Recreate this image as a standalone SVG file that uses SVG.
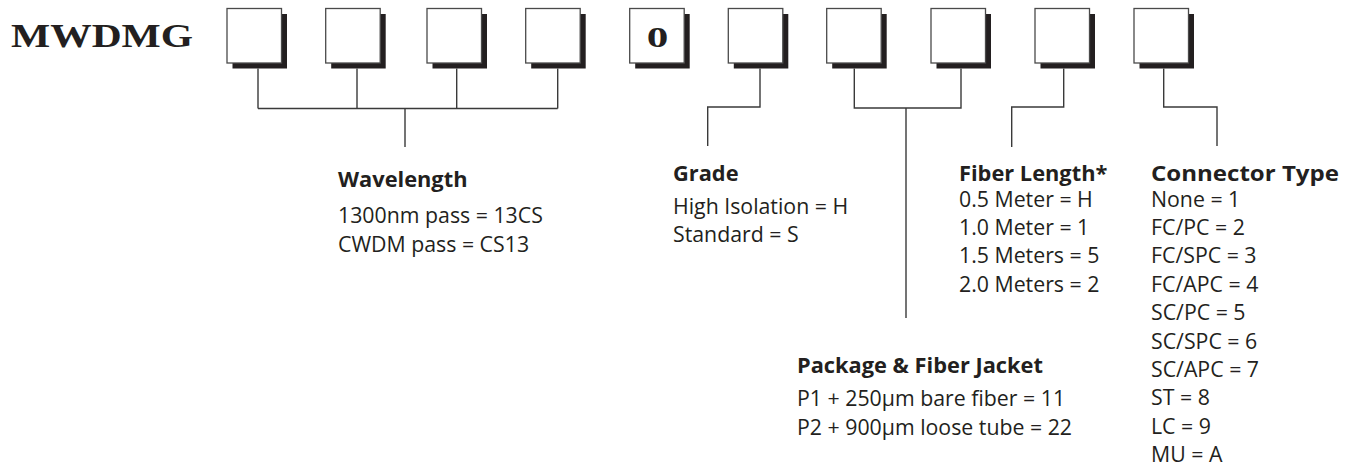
<svg xmlns="http://www.w3.org/2000/svg" width="1353" height="470" viewBox="0 0 1353 470">
<defs>
<style>
.shadow{fill:#231f20}
.box{fill:#ffffff;stroke:#4a4a4a;stroke-width:1.3}
.conn{fill:none;stroke:#3a3a3a;stroke-width:1.4}
.title{font-family:"Liberation Serif","DejaVu Serif",serif;font-weight:bold;fill:#231f20}
.h{font-family:"Open Sans","Liberation Sans",sans-serif;font-weight:bold;font-size:21.8px;fill:#231f20}
.t{font-family:"Open Sans","Liberation Sans",sans-serif;font-size:21.3px;fill:#231f20}
</style>
</defs>
<rect width="1353" height="470" fill="#ffffff"/>
<g id="title"><text class="title" x="11" y="46.7" font-size="33" textLength="182" lengthAdjust="spacingAndGlyphs">MWDMG</text></g>
<g id="box1"><rect class="shadow" x="232.5" y="14" width="54.5" height="54.5"/><rect class="box" x="227" y="8.5" width="54.5" height="54.5"/></g>
<g id="box2"><rect class="shadow" x="331.2" y="14" width="54.5" height="54.5"/><rect class="box" x="325.7" y="8.5" width="54.5" height="54.5"/></g>
<g id="box3"><rect class="shadow" x="432.5" y="14" width="54.5" height="54.5"/><rect class="box" x="427" y="8.5" width="54.5" height="54.5"/></g>
<g id="box4"><rect class="shadow" x="531.2" y="14" width="54.5" height="54.5"/><rect class="box" x="525.7" y="8.5" width="54.5" height="54.5"/></g>
<g id="box5"><rect class="shadow" x="635.2" y="14" width="54.5" height="54.5"/><rect class="box" x="629.7" y="8.5" width="54.5" height="54.5"/><text class="title" x="646.7" y="46.7" font-size="29" textLength="21.6" lengthAdjust="spacingAndGlyphs">0</text></g>
<g id="box6"><rect class="shadow" x="733.8" y="14" width="54.5" height="54.5"/><rect class="box" x="728.3" y="8.5" width="54.5" height="54.5"/></g>
<g id="box7"><rect class="shadow" x="832.2" y="14" width="54.5" height="54.5"/><rect class="box" x="826.7" y="8.5" width="54.5" height="54.5"/></g>
<g id="box8"><rect class="shadow" x="936.5" y="14" width="54.5" height="54.5"/><rect class="box" x="931" y="8.5" width="54.5" height="54.5"/></g>
<g id="box9"><rect class="shadow" x="1040.5" y="14" width="54.5" height="54.5"/><rect class="box" x="1035" y="8.5" width="54.5" height="54.5"/></g>
<g id="box10"><rect class="shadow" x="1139.5" y="14" width="54.5" height="54.5"/><rect class="box" x="1134" y="8.5" width="54.5" height="54.5"/></g>
<g id="connectors">
<path class="conn" d="M258 68.5V108.5M357 68.5V108.5M456.7 68.5V108.5M557.7 68.5V108.5M258 108.5H557.7M405 108.5V147"/>
<path class="conn" d="M760 68.5V107H707.7V146"/>
<path class="conn" d="M854.3 68.5V108H961V68.5M906 108V318"/>
<path class="conn" d="M1063.7 68.5V107H1011.7V147"/>
<path class="conn" d="M1163.7 68.5V107H1217V146"/>
</g>
<g id="wavelength">
<text class="h" x="338" y="186.7">Wavelength</text>
<text class="t" x="338" y="223">1300nm pass = 13CS</text>
<text class="t" x="338" y="251.5">CWDM pass = CS13</text>
</g>
<g id="grade">
<text class="h" x="673" y="180.7">Grade</text>
<text class="t" x="673" y="214">High Isolation = H</text>
<text class="t" x="673" y="241.7">Standard = S</text>
</g>
<g id="fiberlength">
<text class="h" x="959" y="180.5">Fiber Length*</text>
<text class="t" x="959" y="206.5">0.5 Meter = H</text>
<text class="t" x="959" y="234.9">1.0 Meter = 1</text>
<text class="t" x="959" y="263.3">1.5 Meters = 5</text>
<text class="t" x="959" y="291.7">2.0 Meters = 2</text>
</g>
<g id="connectortype">
<text class="h" x="1151" y="180.5" textLength="188" lengthAdjust="spacingAndGlyphs">Connector Type</text>
<text class="t" x="1151" y="206.5">None = 1</text>
<text class="t" x="1151" y="234.9">FC/PC = 2</text>
<text class="t" x="1151" y="263.3">FC/SPC = 3</text>
<text class="t" x="1151" y="291.7">FC/APC = 4</text>
<text class="t" x="1151" y="320.1">SC/PC = 5</text>
<text class="t" x="1151" y="348.5">SC/SPC = 6</text>
<text class="t" x="1151" y="376.9">SC/APC = 7</text>
<text class="t" x="1151" y="405.3">ST = 8</text>
<text class="t" x="1151" y="433.7">LC = 9</text>
<text class="t" x="1151" y="462.1">MU = A</text>
</g>
<g id="package">
<text class="h" x="797" y="373">Package &amp; Fiber Jacket</text>
<text class="t" x="797" y="406">P1 + 250µm bare fiber = 11</text>
<text class="t" x="797" y="434.5">P2 + 900µm loose tube = 22</text>
</g>
</svg>
